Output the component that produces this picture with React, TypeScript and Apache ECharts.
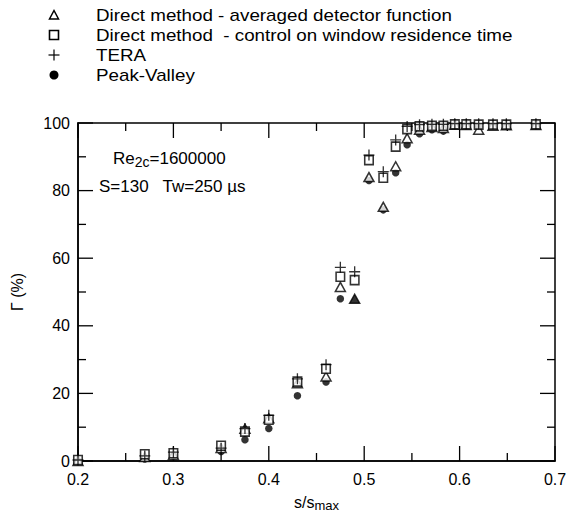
import React, { useEffect, useRef } from "react";
import * as echarts from "echarts";

// s / s_max positions of the measurement stations
const sRatio = [0.2, 0.27, 0.3, 0.35, 0.375, 0.4, 0.43, 0.46, 0.475, 0.49, 0.505, 0.52, 0.533, 0.545, 0.558, 0.571, 0.583, 0.595, 0.607, 0.62, 0.635, 0.649, 0.68];
// Gamma (%) for each method
const averagedDetector = [0, 1.2, 1.8, 3.8, 9.5, 12.6, 23, 25, 51.5, 48, 84, 75.2, 87.2, 95.5, 98, 98.8, 98.5, 99.5, 99.4, 98, 99.2, 99.3, 99.4];
const windowResidence = [0.3, 2, 2.3, 4.5, 8.7, 12.2, 23.5, 27.3, 54.5, 53.5, 89, 83.8, 93, 98.2, 99, 99.2, 99.2, 99.6, 99.6, 99.5, 99.5, 99.5, 99.6];
const tera = [0.3, 1.5, 2.6, 3.8, 9.6, 13.5, 24.3, 28.5, 57.3, 56, 90.5, 85.6, 95, 99, 99.5, 99.6, 99.6, 99.8, 99.8, 99.8, 99.8, 99.8, 99.8];
const peakValley = [0, 0.6, 1.5, 2.8, 6.3, 9.6, 19.3, 23.4, 48, null, 83, 74.3, 85.3, 93.6, 96.8, 98, 97.6, 99.4, 99.4, 99, 99.3, 99.3, 99.4];

// tick positions
const xMajorTicks = [0.2, 0.3, 0.4, 0.5, 0.6, 0.7];
const xMinorTicks = [0.25, 0.35, 0.45, 0.55, 0.65];
const yMajorTicks = [0, 20, 40, 60, 80, 100];
const yMinorTicks = [10, 30, 50, 70, 90];

const seriesNames = [
  "Direct method - averaged detector function",
  "Direct method  - control on window residence time",
  "TERA",
  "Peak-Valley",
];

const X_MIN = 0.2;
const X_MAX = 0.7;
const Y_MIN = 0;
const Y_MAX = 100;
const FILLED_TRIANGLE_INDEX = 9;
const FONT = "Liberation Sans, Arial, sans-serif";
const PLUS_PATH = "path://M4.4,0h1.2v4.4h4.4v1.2h-4.4v4.4h-1.2v-4.4h-4.4v-1.2h4.4z";
const MAJOR_LEN = 15;
const MINOR_LEN = 8;

function pairs(vals: (number | null)[]) {
  return sRatio.map((s, i) => (vals[i] === null ? null : [s, vals[i]])).filter((d) => d !== null);
}

function renderFrame(_params: any, api: any) {
  const [x0, y0] = api.coord([X_MIN, Y_MIN]);
  const [x1, y1] = api.coord([X_MAX, Y_MAX]);
  const tickStyle = { stroke: "#000", lineWidth: 1.3 };
  const children: any[] = [
    {
      type: "rect",
      shape: { x: x0, y: y1, width: x1 - x0, height: y0 - y1 },
      style: { fill: "none", stroke: "#000", lineWidth: 1.5 },
    },
  ];
  const addX = (vals: number[], len: number) =>
    vals.forEach((v) => {
      const px = api.coord([v, Y_MIN])[0];
      children.push({ type: "line", shape: { x1: px, y1: y0, x2: px, y2: y0 - len }, style: tickStyle });
      children.push({ type: "line", shape: { x1: px, y1: y1, x2: px, y2: y1 + len }, style: tickStyle });
    });
  const addY = (vals: number[], len: number) =>
    vals.forEach((v) => {
      const py = api.coord([X_MIN, v])[1];
      children.push({ type: "line", shape: { x1: x0, y1: py, x2: x0 + len, y2: py }, style: tickStyle });
      children.push({ type: "line", shape: { x1: x1, y1: py, x2: x1 - len, y2: py }, style: tickStyle });
    });
  addX(xMajorTicks, MAJOR_LEN);
  addX(xMinorTicks, MINOR_LEN);
  addY(yMajorTicks, MAJOR_LEN);
  addY(yMinorTicks, MINOR_LEN);
  return { type: "group", children };
}

export default function App() {
  const ref = useRef<HTMLDivElement>(null);
  useEffect(() => {
    document.body.style.margin = "0";
    if (!ref.current) return;
    const chart = echarts.init(ref.current, undefined, { renderer: "svg" });

    const triData = sRatio.map((s, i) =>
      i === FILLED_TRIANGLE_INDEX
        ? { value: [s, averagedDetector[i]], itemStyle: { color: "#000" } }
        : { value: [s, averagedDetector[i]] }
    );

    const lx = 54;
    const tx = 96;
    const rows = [15, 35, 55, 75];
    const legendText = seriesNames.map((n, i) => ({
      type: "text",
      x: tx,
      y: rows[i],
      scaleX: 1.105,
      style: { text: n, font: `17px ${FONT}`, fill: "#000", verticalAlign: "middle" },
    }));

    chart.setOption({
      animation: false,
      grid: { left: 78, right: 11, top: 123, bottom: 52, outerBoundsMode: "none" },
      xAxis: {
        type: "value",
        min: X_MIN,
        max: X_MAX,
        interval: 0.1,
        axisLine: { show: true, onZero: false, lineStyle: { color: "#000", width: 1.5 } },
        axisTick: { show: false },
        splitLine: { show: false },
        axisLabel: { color: "#000", fontSize: 16, fontFamily: FONT, margin: 10, formatter: (v: number) => v.toFixed(1) },
        name: "s/s{sub|max}",
        nameLocation: "middle",
        nameGap: 32,
        nameTextStyle: {
          color: "#000",
          fontSize: 16,
          fontFamily: FONT,
          rich: { sub: { fontSize: 13, fontFamily: FONT, color: "#000", padding: [6, 0, 0, 0] } },
        },
      },
      yAxis: {
        type: "value",
        min: Y_MIN,
        max: Y_MAX,
        interval: 20,
        axisLine: { show: true, onZero: false, lineStyle: { color: "#000", width: 1.5 } },
        axisTick: { show: false },
        splitLine: { show: false },
        axisLabel: { color: "#000", fontSize: 16, fontFamily: FONT, margin: 8 },
        name: "Γ (%)",
        nameLocation: "middle",
        nameRotate: 90,
        nameGap: 53,
        nameTextStyle: { color: "#000", fontSize: 16, fontFamily: FONT },
      },
      series: [
        {
          name: "frame",
          type: "custom",
          data: [[X_MIN, Y_MIN]],
          renderItem: renderFrame,
          clip: false,
          silent: true,
          z: 1,
        },
        { name: seriesNames[3], type: "scatter", data: pairs(peakValley), symbol: "circle", symbolSize: 7.5, itemStyle: { color: "#000" }, z: 3 },
        { name: seriesNames[0], type: "scatter", data: triData, symbol: "triangle", symbolSize: [10, 9], itemStyle: { color: "#fff", borderColor: "#000", borderWidth: 1.5 }, z: 3 },
        { name: seriesNames[1], type: "scatter", data: pairs(windowResidence), symbol: "rect", symbolSize: [8.5, 9], itemStyle: { color: "#fff", borderColor: "#000", borderWidth: 1.6 }, z: 3 },
        { name: seriesNames[2], type: "scatter", data: pairs(tera), symbol: PLUS_PATH, symbolSize: 11, itemStyle: { color: "#000" }, z: 3 },
      ],
      graphic: [
        {
          type: "polygon",
          shape: { points: [[lx, rows[0] - 4.5], [lx - 4.5, rows[0] + 4], [lx + 4.5, rows[0] + 4]] },
          style: { fill: "none", stroke: "#000", lineWidth: 1.5 },
        },
        {
          type: "rect",
          shape: { x: lx - 4.5, y: rows[1] - 4.5, width: 9, height: 9 },
          style: { fill: "none", stroke: "#000", lineWidth: 1.6 },
        },
        { type: "rect", shape: { x: lx - 5.5, y: rows[2] - 0.6, width: 11, height: 1.2 }, style: { fill: "#000" } },
        { type: "rect", shape: { x: lx - 0.6, y: rows[2] - 5.5, width: 1.2, height: 11 }, style: { fill: "#000" } },
        { type: "circle", shape: { cx: lx, cy: rows[3], r: 4.5 }, style: { fill: "#000" } },
        ...legendText,
        {
          type: "text",
          x: 113,
          y: 158,
          style: {
            text: "Re{sub|2c}=1600000",
            font: `17px ${FONT}`,
            fill: "#000",
            verticalAlign: "middle",
            rich: { sub: { fontSize: 14, fontFamily: FONT, fill: "#000", padding: [8, 0, 0, 0] } },
          },
        },
        {
          type: "text",
          x: 99,
          y: 186,
          style: { text: "S=130   Tw=250 µs", font: `17px ${FONT}`, fill: "#000", verticalAlign: "middle" },
        },
      ],
    });
    return () => chart.dispose();
  }, []);
  return <div ref={ref} style={{ width: 566, height: 513 }} />;
}
